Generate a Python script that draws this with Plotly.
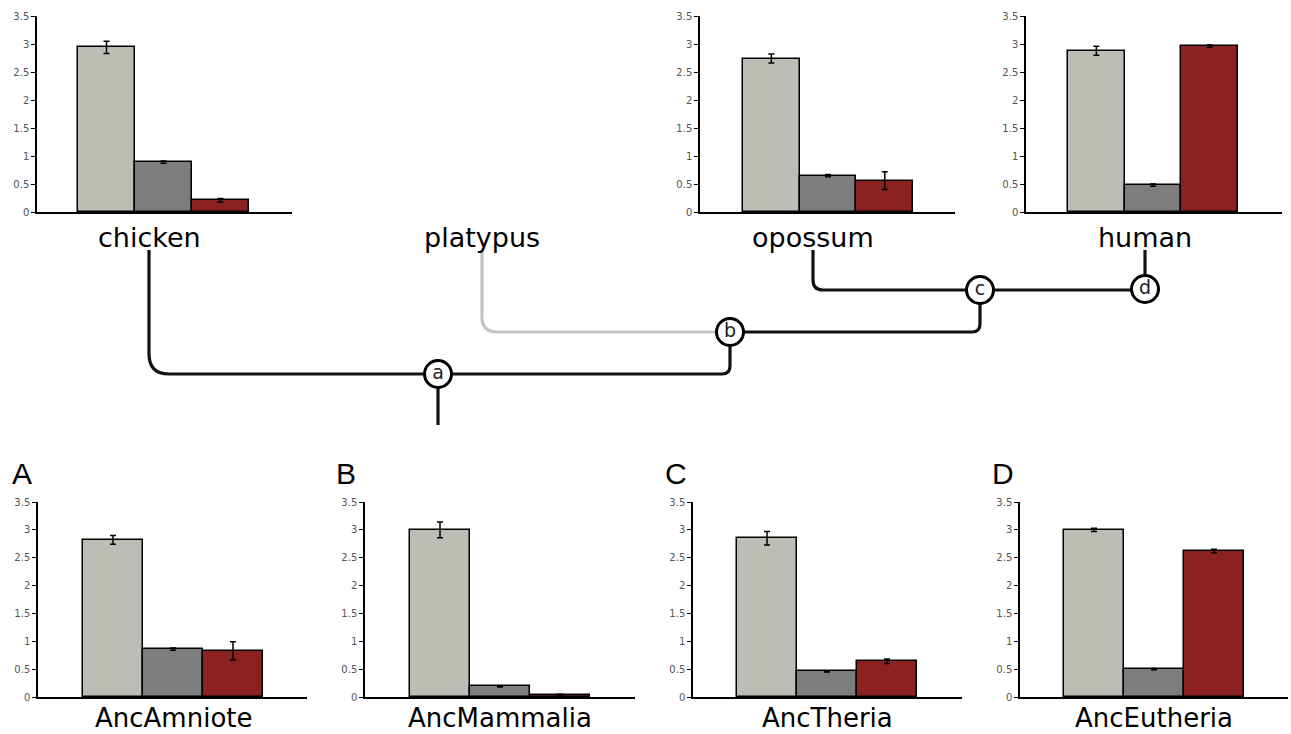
import plotly.graph_objects as go

# ---------------- data ----------------
panels = ["chicken", "opossum", "human", "AncAmniote", "AncMammalia", "AncTheria", "AncEutheria"]
light_vals = [2.94, 2.74, 2.88, 2.82, 3.00, 2.85, 3.00]
light_err = [0.11, 0.08, 0.08, 0.08, 0.14, 0.12, 0.03]
dark_vals = [0.89, 0.65, 0.48, 0.86, 0.19, 0.46, 0.50]
dark_err = [0.02, 0.02, 0.02, 0.02, 0.01, 0.01, 0.01]
red_vals = [0.21, 0.56, 2.96, 0.83, 0.04, 0.64, 2.62]
red_err = [0.03, 0.16, 0.02, 0.16, 0.01, 0.04, 0.03]
panel_letters = ["A", "B", "C", "D"]
y_ticks = [0, 0.5, 1, 1.5, 2, 2.5, 3, 3.5]
leaf_names = ["chicken", "platypus", "opossum", "human"]
node_names = ["a", "b", "c", "d"]

# ---------------- layout (pixels) ----------------
W, H = 1291, 734
# (axis left, axis right, top of 3.5, y of 0, first bar left, bar width)
frames = [
    (37, 292, 16, 212, 78, 57),
    (700, 955, 16, 212, 743, 56.7),
    (1026, 1282, 16, 212, 1068, 56.7),
    (38, 307, 502, 697, 83, 60),
    (365, 635, 502, 697, 410, 60),
    (693, 962, 502, 697, 737, 60),
    (1020, 1288, 502, 697, 1064, 60),
]
# tree drawing coordinates in page pixels
tree_pos = {
    "chicken": (149, 250), "platypus": (482, 250), "opossum": (813, 250), "human": (1145, 250),
    "a": (438, 374), "b": (730, 332), "c": (980, 290), "d": (1145, 289), "root": (438, 425),
}
# edges: (from, to, order, corner radius, colour)
tree_edges = [
    ("chicken", "a", "vh", 20, "#111111"),
    ("a", "b", "hv", 8, "#111111"),
    ("platypus", "b", "vh", 15, "#c4c4c4"),
    ("b", "c", "hv", 8, "#111111"),
    ("opossum", "c", "vh", 10, "#111111"),
    ("c", "d", "hv", 0, "#111111"),
    ("human", "d", "vh", 0, "#111111"),
    ("a", "root", "vh", 0, "#111111"),
]
letter_pos = [(22, 473), (346, 473), (676, 473), (1003, 473)]

colors = ["#bdbdb6", "#7d7d7d", "#8c2121"]

fig = go.Figure()
layout = dict(
    template="none",
    width=W, height=H, margin=dict(l=0, r=0, t=0, b=0, pad=0),
    paper_bgcolor="white", plot_bgcolor="rgba(0,0,0,0)", showlegend=False,
    bargap=0,
)
annotations = []

for i, name in enumerate(panels):
    ax = i + 1
    L, R, T, B, B0, BW = frames[i]
    fig.add_trace(go.Bar(
        x=[0, 1, 2], y=[light_vals[i], dark_vals[i], red_vals[i]], width=1,
        marker=dict(color=colors, line=dict(color="black", width=1.5)),
        error_y=dict(type="data", array=[light_err[i], dark_err[i], red_err[i]],
                     color="black", thickness=1.5, width=3),
        xaxis=f"x{ax}", yaxis=f"y{ax}", hoverinfo="skip",
    ))
    xr = [-0.5 - (B0 - L) / BW, -0.5 + (R - B0) / BW]
    layout["xaxis" if ax == 1 else f"xaxis{ax}"] = dict(
        domain=[L / W, R / W], range=xr, anchor=f"y{ax}", automargin=False,
        showline=True, linecolor="black", linewidth=1.5, showgrid=False,
        zeroline=False, showticklabels=False, ticks="", fixedrange=True,
    )
    layout["yaxis" if ax == 1 else f"yaxis{ax}"] = dict(
        domain=[1 - B / H, 1 - T / H], range=[0, 3.5], anchor=f"x{ax}", automargin=False,
        tickvals=y_ticks, showline=True, linecolor="black", linewidth=1.5,
        ticks="outside", ticklen=4, tickwidth=1.2, tickcolor="black",
        tickfont=dict(family="DejaVu Sans", size=10, color="#555555"),
        showgrid=False, zeroline=False, fixedrange=True,
    )
    if i >= 3:
        annotations.append(dict(
            x=1, y=0, xref=f"x{ax}", yref="paper", text=name, showarrow=False,
            xanchor="center", yanchor="bottom", borderpad=0,
            font=dict(family="DejaVu Sans", size=26, color="black"),
        ))

# overlay axis in page pixels for the tree
layout["xaxis8"] = dict(domain=[0, 1], range=[0, W], visible=False, anchor="y8",
                        fixedrange=True, automargin=False)
layout["yaxis8"] = dict(domain=[0, 1], range=[H, 0], visible=False, anchor="x8",
                        fixedrange=True, automargin=False)

shapes = []
for a, b, order, r, col in tree_edges:
    xs, ys = tree_pos[a]
    xe, ye = tree_pos[b]
    sx = 1 if xe >= xs else -1
    sy = 1 if ye >= ys else -1
    if order == "vh":
        path = (f"M {xs},{ys} L {xs},{ye - sy * r} Q {xs},{ye} {xs + sx * r},{ye} "
                f"L {xe},{ye}")
    else:
        path = (f"M {xs},{ys} L {xe - sx * r},{ys} Q {xe},{ys} {xe},{ys + sy * r} "
                f"L {xe},{ye}")
    shapes.append(dict(type="path", path=path, xref="x8", yref="y8",
                       line=dict(color=col, width=3.2), layer="below"))

fig.add_trace(go.Scatter(
    x=[tree_pos[n][0] for n in node_names], y=[tree_pos[n][1] for n in node_names],
    mode="markers+text", text=node_names, textposition="middle center",
    textfont=dict(family="DejaVu Sans", size=19, color="#222222"),
    marker=dict(size=27, color="white", line=dict(color="black", width=3)),
    xaxis="x8", yaxis="y8", hoverinfo="skip", cliponaxis=False,
))

for n in leaf_names:
    annotations.append(dict(
        x=tree_pos[n][0], y=237, xref="x8", yref="y8", text=n, showarrow=False,
        xanchor="center", yanchor="middle",
        font=dict(family="DejaVu Sans", size=27, color="black"),
    ))

for letter, (lx, ly) in zip(panel_letters, letter_pos):
    annotations.append(dict(
        x=lx, y=ly, xref="x8", yref="y8", text=letter, showarrow=False,
        xanchor="center", yanchor="middle",
        font=dict(family="Liberation Sans", size=30, color="black"),
    ))

layout["annotations"] = annotations
layout["shapes"] = shapes
fig.update_layout(**layout)

fig.write_html("out.html", config={"displayModeBar": False},
               post_script="document.body.style.margin='0';")
